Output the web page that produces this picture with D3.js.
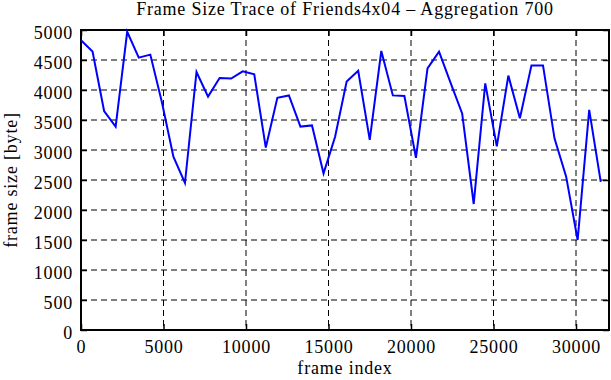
<!DOCTYPE html>
<html>
<head>
<meta charset="utf-8">
<script src="https://cdn.jsdelivr.net/npm/d3@7"></script>
<style>
  body { margin: 0; background: #fff; }
  text { font-family: "Liberation Serif", "DejaVu Serif", serif; fill: #000; }
</style>
</head>
<body>
<div id="chart"></div>
<script>
// frame index step is 700 (aggregation)
let step = 700;
let frameSizes = [
    4830, 4640, 3650, 3390, 4970, 4540, 4590, 3800, 2890, 2450,
    4300, 3890, 4200, 4190, 4310, 4260, 3040, 3870, 3910, 3390,
    3410, 2610, 3220, 4140, 4320, 3170, 4650, 3910, 3900, 2870,
    4360, 4640, 4120, 3610, 2100, 4110, 3060, 4240, 3530, 4410,
    4410, 3190, 2560, 1500, 3670, 2470
];
let xTicks = [0, 5000, 10000, 15000, 20000, 25000, 30000];
let yTicks = [0, 500, 1000, 1500, 2000, 2500, 3000, 3500, 4000, 4500, 5000];

let data = frameSizes.map((v, i) => ({ frame: i * step, size: v }));

let svgWidth = 611;
let svgHeight = 380;
let margin = { top: 30, right: 2, bottom: 50, left: 81 };
let width = svgWidth - margin.left - margin.right;
let height = svgHeight - margin.top - margin.bottom;

let fontSize = "18px";
let spacing = "0.8px";

let svg = d3.select("#chart")
    .append("svg")
    .attr("width", svgWidth)
    .attr("height", svgHeight);

let chartGroup = svg.append("g")
    .attr("transform", `translate(${margin.left},${margin.top})`);

let x = d3.scaleLinear().domain([0, 32000]).range([0, width]);
let y = d3.scaleLinear().domain([0, 5000]).range([height, 0]);

// grid
chartGroup.append("g")
    .selectAll("line")
    .data(xTicks.slice(1))
    .enter()
    .append("line")
    .attr("x1", d => x(d)).attr("x2", d => x(d))
    .attr("y1", 0).attr("y2", height)
    .attr("stroke", "#000")
    .attr("stroke-width", 1)
    .attr("stroke-dasharray", "6,4");

chartGroup.append("g")
    .selectAll("line")
    .data(yTicks.slice(1, -1))
    .enter()
    .append("line")
    .attr("x1", 0).attr("x2", width)
    .attr("y1", d => y(d)).attr("y2", d => y(d))
    .attr("stroke", "#000")
    .attr("stroke-width", 1)
    .attr("stroke-dasharray", "6,4");

// axes, ticks pointing inward
let bottomAxis = d3.axisBottom(x).tickValues(xTicks).tickSize(-6).tickPadding(10).tickFormat(d3.format("d"));
let topAxis = d3.axisTop(x).tickValues(xTicks).tickSize(-6).tickFormat("");
let leftAxis = d3.axisLeft(y).tickValues(yTicks).tickSize(-6).tickPadding(8).tickFormat(d3.format("d"));
let rightAxis = d3.axisRight(y).tickValues(yTicks).tickSize(-6).tickFormat("");

function styleAxis(g) {
    g.select(".domain").remove();
    g.selectAll(".tick line").attr("stroke", "#000").attr("stroke-width", 1.5);
    g.selectAll("text")
        .style("font-family", "'Liberation Serif', serif")
        .style("font-size", fontSize)
        .style("letter-spacing", spacing)
        .attr("fill", "#000");
}

chartGroup.append("g").attr("transform", `translate(0,${height})`).call(bottomAxis).call(styleAxis);
chartGroup.append("g").call(topAxis).call(styleAxis);
chartGroup.append("g").call(leftAxis).call(styleAxis)
    .selectAll(".tick text").attr("dy", "0.45em");
chartGroup.append("g").attr("transform", `translate(${width},0)`).call(rightAxis).call(styleAxis);

// border
chartGroup.append("rect")
    .attr("width", width)
    .attr("height", height)
    .attr("fill", "none")
    .attr("stroke", "#000")
    .attr("stroke-width", 2);

// the trace
let line = d3.line()
    .x(d => x(d.frame))
    .y(d => y(d.size));

chartGroup.append("path")
    .datum(data)
    .attr("d", line)
    .attr("fill", "none")
    .attr("stroke", "#0000ff")
    .attr("stroke-width", 2);

// labels
svg.append("text")
    .attr("x", 345)
    .attr("y", 15)
    .attr("text-anchor", "middle")
    .style("font-size", fontSize)
    .style("letter-spacing", spacing)
    .text("Frame Size Trace of Friends4x04 \u2013 Aggregation 700");

svg.append("text")
    .attr("x", margin.left + width / 2)
    .attr("y", 374)
    .attr("text-anchor", "middle")
    .style("font-size", fontSize)
    .style("letter-spacing", spacing)
    .text("frame index");

svg.append("text")
    .attr("transform", `translate(17,${margin.top + height / 2}) rotate(-90)`)
    .attr("text-anchor", "middle")
    .style("font-size", fontSize)
    .style("letter-spacing", spacing)
    .text("frame size [byte]");
</script>
</body>
</html>
